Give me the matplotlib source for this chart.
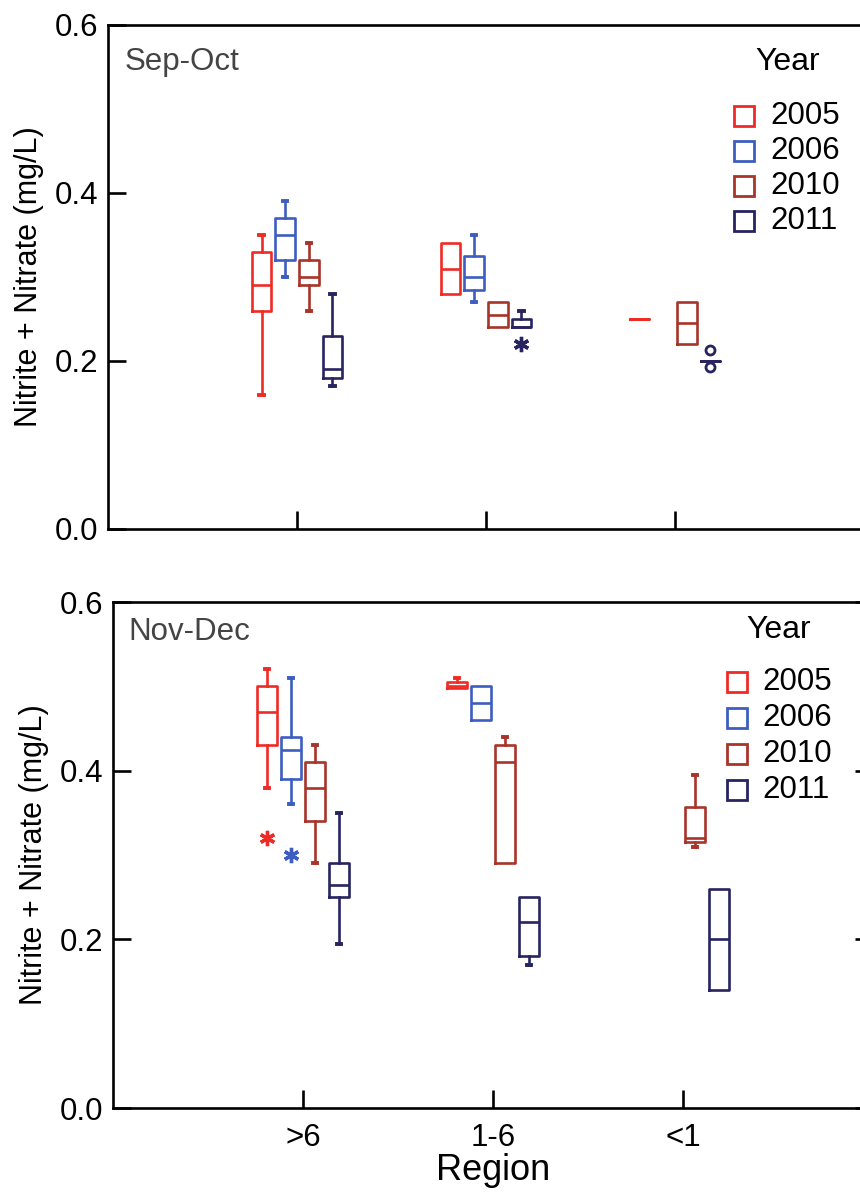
import matplotlib
matplotlib.use("Agg")
import matplotlib.pyplot as plt
import numpy as np

plt.rcParams['font.family'] = ['Liberation Sans', 'DejaVu Sans']

regions = [">6", "1-6", "<1"]
years = ["2005", "2006", "2010", "2011"]
colors = ["#EE2B25", "#3D5EC0", "#A8342A", "#27245F"]

# five-number summaries, rows = years, columns = regions (None = no data)
sep_whislo = [[0.16, 0.28, 0.25], [0.30, 0.27, None], [0.26, 0.24, 0.22], [0.17, 0.24, 0.20]]
sep_q1 = [[0.26, 0.28, 0.25], [0.32, 0.285, None], [0.29, 0.24, 0.22], [0.18, 0.24, 0.20]]
sep_med = [[0.29, 0.31, 0.25], [0.35, 0.30, None], [0.30, 0.255, 0.245], [0.19, 0.24, 0.20]]
sep_q3 = [[0.33, 0.34, 0.25], [0.37, 0.325, None], [0.32, 0.27, 0.27], [0.23, 0.25, 0.20]]
sep_whishi = [[0.35, 0.34, 0.25], [0.39, 0.35, None], [0.34, 0.27, 0.27], [0.28, 0.26, 0.20]]
sep_stars = [("2011", "1-6", 0.22)]
sep_circles = [("2011", "<1", 0.213), ("2011", "<1", 0.193)]

nov_whislo = [[0.38, 0.498, None], [0.36, 0.46, None], [0.29, 0.29, 0.31], [0.195, 0.17, 0.14]]
nov_q1 = [[0.43, 0.498, None], [0.39, 0.46, None], [0.34, 0.29, 0.315], [0.25, 0.18, 0.14]]
nov_med = [[0.47, 0.50, None], [0.425, 0.48, None], [0.38, 0.41, 0.32], [0.265, 0.22, 0.20]]
nov_q3 = [[0.50, 0.505, None], [0.44, 0.50, None], [0.41, 0.43, 0.357], [0.29, 0.25, 0.26]]
nov_whishi = [[0.52, 0.51, None], [0.51, 0.50, None], [0.43, 0.44, 0.395], [0.35, 0.25, 0.26]]
nov_stars = [("2005", ">6", 0.32), ("2006", ">6", 0.30)]
nov_circles = []

offsets = [-0.1875, -0.0625, 0.0625, 0.1875]
box_w = 0.105
lw = 1.9


def draw_panel(ax, lo, q1, med, q3, hi, stars, circles):
    for yi, col in enumerate(colors):
        stats, pos = [], []
        for ri in range(len(regions)):
            if med[yi][ri] is None:
                continue
            stats.append(dict(whislo=lo[yi][ri], q1=q1[yi][ri], med=med[yi][ri],
                              q3=q3[yi][ri], whishi=hi[yi][ri], fliers=[]))
            pos.append(ri + 1 + offsets[yi])
        props = dict(color=col, linewidth=lw)
        out = ax.bxp(stats, positions=pos, widths=box_w, capwidths=0.022,
                     showfliers=False, boxprops=props, whiskerprops=props,
                     capprops=dict(color=col, linewidth=2.8),
                     medianprops=props, manage_ticks=False)
        # hide caps of zero-length whiskers
        for k, st in enumerate(stats):
            if st['whislo'] >= st['q1']:
                out['caps'][2 * k].set_visible(False)
            if st['whishi'] <= st['q3']:
                out['caps'][2 * k + 1].set_visible(False)
    for yr, reg, v in stars:
        yi = years.index(yr)
        ax.plot(regions.index(reg) + 1 + offsets[yi], v, ls='none', marker=(6, 2, 0),
                ms=11, mew=2.4, color=colors[yi])
    for yr, reg, v in circles:
        yi = years.index(yr)
        ax.plot(regions.index(reg) + 1 + offsets[yi], v, ls='none', marker='o',
                ms=6.5, mew=2.0, mfc='none', color=colors[yi])

    ax.set_xlim(0, 4)
    ax.set_ylim(0, 0.6)
    ax.set_yticks([0.0, 0.2, 0.4, 0.6])
    ax.set_yticklabels(["0.0", "0.2", "0.4", "0.6"])
    ax.set_xticks([1, 2, 3])
    for s in ax.spines.values():
        s.set_linewidth(1.9)
    ax.tick_params(axis='both', direction='in', length=13, width=1.9,
                   labelsize=22.5, pad=7)
    ax.set_ylabel("Nitrite + Nitrate (mg/L)", fontsize=22, labelpad=8)


fig = plt.figure(figsize=(8.6, 11.92), dpi=100)
ax1 = fig.add_axes([108 / 860, 1 - 529 / 1192, 756 / 860, 504 / 1192])
ax2 = fig.add_axes([113 / 860, 1 - 1108 / 1192, 760 / 860, 506 / 1192])

draw_panel(ax1, sep_whislo, sep_q1, sep_med, sep_q3, sep_whishi, sep_stars, sep_circles)
draw_panel(ax2, nov_whislo, nov_q1, nov_med, nov_q3, nov_whishi, nov_stars, nov_circles)

ax1.set_xticklabels([])
ax2.set_xticklabels(regions)
ax2.tick_params(axis='x', pad=11)
ax2.tick_params(axis='y', right=True)
ax2.set_xlabel("Region", fontsize=26, labelpad=0)

ax1.text(0.022, 0.927, "Sep-Oct", transform=ax1.transAxes, fontsize=22.5,
         color="#444444", va='center', ha='left')
ax2.text(0.02, 0.941, "Nov-Dec", transform=ax2.transAxes, fontsize=22.5,
         color="#444444", va='center', ha='left')

# legends
for ax, mx, tx, yx, ty, y0, dy in [(ax1, 0.841, 0.876, 0.899, 0.927, 0.819, 0.0694),
                                   (ax2, 0.821, 0.855, 0.876, 0.945, 0.841, 0.071)]:
    ax.text(yx, ty, "Year", transform=ax.transAxes, fontsize=23,
            ha='center', va='center')
    for i, (yr, col) in enumerate(zip(years, colors)):
        yy = y0 - i * dy
        ax.plot(mx, yy, marker='s', ms=15, mfc='none', mec=col, mew=2.0,
                transform=ax.transAxes, clip_on=False)
        ax.text(tx, yy, yr, transform=ax.transAxes, fontsize=22.5,
                ha='left', va='center')

fig.savefig("out.png", dpi=100)
